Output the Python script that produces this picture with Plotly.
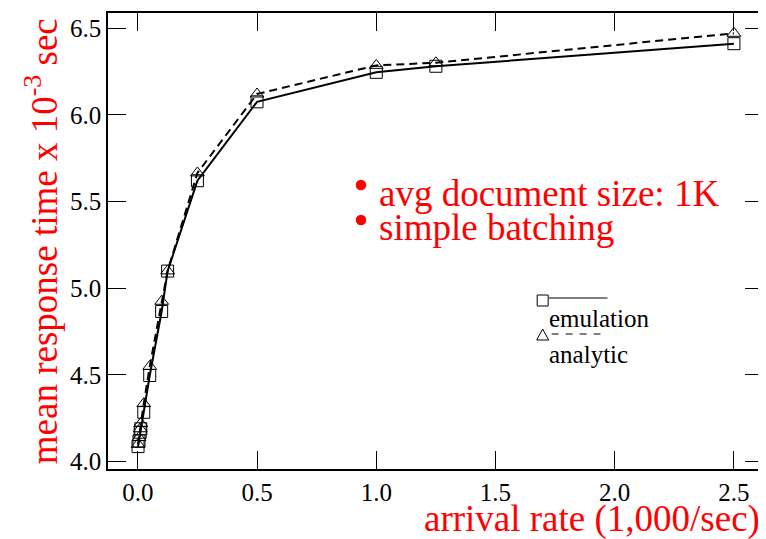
import plotly.graph_objects as go

# ---- data ----
arrival_rate = [0.001, 0.005, 0.01, 0.0125, 0.025, 0.05, 0.1, 0.125, 0.25, 0.5, 1.0, 1.25, 2.5]
emulation = [4.087, 4.12, 4.17, 4.19, 4.285, 4.497, 4.866, 5.099, 5.62, 6.075, 6.245, 6.28, 6.41]
analytic = [4.10, 4.14, 4.19, 4.22, 4.335, 4.55, 4.925, 5.10, 5.665, 6.12, 6.285, 6.30, 6.47]
x_ticks = [0.0, 0.5, 1.0, 1.5, 2.0, 2.5]
x_tick_labels = ["0.0", "0.5", "1.0", "1.5", "2.0", "2.5"]
y_ticks = [4.0, 4.5, 5.0, 5.5, 6.0, 6.5]
y_tick_labels = ["4.0", "4.5", "5.0", "5.5", "6.0", "6.5"]
notes = ["avg document size: 1K", "simple batching"]

# page body has an 8px default margin
OFF = 8
W, H = 758, 531
L, R, T, B = 100, 1, 5, 70
PW, PH = W - L - R, H - T - B

def px(x):
    return (x - OFF - L) / PW

def py(y):
    return (H - B - (y - OFF)) / PH

SERIF = "Liberation Serif, Times New Roman, serif"
RED = "#ff0000"

fig = go.Figure()
fig.add_trace(go.Scatter(
    x=arrival_rate, y=emulation, mode="lines+markers", name="emulation",
    line=dict(color="black", width=2),
    marker=dict(symbol="square-open", size=12, color="black", line=dict(width=1)),
    showlegend=False))
fig.add_trace(go.Scatter(
    x=arrival_rate, y=analytic, mode="lines+markers", name="analytic",
    line=dict(color="black", width=2, dash="8px,5px"),
    marker=dict(symbol="triangle-up-open", size=12, color="black", line=dict(width=1)),
    showlegend=False))

shapes = []
annotations = []

# custom legend
shapes.append(dict(type="rect", xref="paper", yref="paper",
                   x0=px(538.5), x1=px(549.5), y0=py(306), y1=py(295),
                   line=dict(color="black", width=1), fillcolor="rgba(0,0,0,0)"))
shapes.append(dict(type="line", xref="paper", yref="paper",
                   x0=px(549.5), x1=px(609), y0=py(298), y1=py(298),
                   line=dict(color="#555", width=1.5)))
shapes.append(dict(type="path", xref="paper", yref="paper",
                   path="M {},{} L {},{} L {},{} Z".format(px(538), py(340), px(550), py(340), px(544), py(329)),
                   line=dict(color="black", width=1), fillcolor="rgba(0,0,0,0)"))
shapes.append(dict(type="line", xref="paper", yref="paper",
                   x0=px(553), x1=px(602), y0=py(334), y1=py(334),
                   line=dict(color="#555", width=1.5, dash="7px,7px")))
annotations.append(dict(text="emulation", xref="paper", yref="paper", x=px(548), y=py(318),
                        xanchor="left", yanchor="middle", showarrow=False,
                        font=dict(family=SERIF, size=25, color="black")))
annotations.append(dict(text="analytic", xref="paper", yref="paper", x=px(548), y=py(354),
                        xanchor="left", yanchor="middle", showarrow=False,
                        font=dict(family=SERIF, size=25, color="black")))

# red notes with bullets
for i, (t, yc) in enumerate(zip(notes, [193, 228])):
    annotations.append(dict(text=t, xref="paper", yref="paper", x=px(378), y=py(yc),
                            xanchor="left", yanchor="middle", showarrow=False,
                            font=dict(family=SERIF, size=37, color=RED)))
    by = 185 + 35 * i
    shapes.append(dict(type="circle", xref="paper", yref="paper",
                       x0=px(356.5), x1=px(367), y0=py(by + 5.2), y1=py(by - 5.2),
                       line=dict(color=RED, width=0), fillcolor=RED))

# axis titles
annotations.append(dict(text="mean response time x 10<sup>-3</sup> sec", xref="paper", yref="paper",
                        x=px(41), y=py(241), xanchor="center", yanchor="middle", textangle=-90,
                        showarrow=False, font=dict(family=SERIF, size=37, color=RED)))
annotations.append(dict(text="arrival rate (1,000/sec)", xref="paper", yref="paper",
                        x=px(764), y=py(519), xanchor="right", yanchor="middle",
                        showarrow=False, font=dict(family=SERIF, size=37, color=RED)))

axis_common = dict(showgrid=False, zeroline=False, showline=True, linecolor="black", linewidth=1.5,
                   mirror="ticks", ticks="inside", ticklen=18, tickwidth=1.2, tickcolor="black",
                   tickfont=dict(family=SERIF, size=25, color="black"))

fig.update_layout(
    width=W, height=H, margin=dict(l=L, r=R, t=T, b=B),
    paper_bgcolor="white", plot_bgcolor="white",
    xaxis=dict(range=[-0.125, 2.622], tickvals=x_ticks, ticktext=x_tick_labels, **axis_common),
    yaxis=dict(range=[3.958, 6.587], tickvals=y_ticks, ticktext=y_tick_labels, **axis_common),
    shapes=shapes, annotations=annotations,
)

fig.write_html("out.html")
